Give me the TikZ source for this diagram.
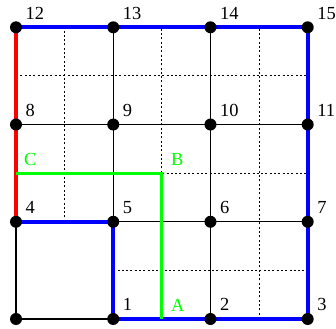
\documentclass[tikz,border=0pt]{standalone}
\usepackage{fontspec}
\setmainfont{Liberation Serif}
\begin{document}
\begin{tikzpicture}[x=97.2bp,y=97.2bp,
  vertex/.style={circle,fill=black,inner sep=0pt,minimum size=12bp},
  num/.style={anchor=base west,inner sep=0pt,font=\fontsize{18.5}{20}\selectfont},
  gridline/.style={line width=1.2bp},
  fine/.style={line width=1bp,dash pattern=on 2bp off 2.3bp},
  boundary/.style={line width=4bp}]
\useasboundingbox (-16bp,-10bp) rectangle ([shift={(28.3bp,27.3bp)}]3,3);
% vertices 0..15, row by row from the bottom
\foreach \k in {0,...,15} {
  \pgfmathtruncatemacro\col{mod(\k,4)}
  \pgfmathtruncatemacro\row{div(\k,4)}
  \coordinate (n\k) at (\col,\row);
}
\coordinate (A) at (1.5,0);
\coordinate (B) at (1.5,1.5);
\coordinate (C) at (0,1.5);
% refined grid
\foreach \x in {1.5,2.5} \draw[fine] (\x,0) -- (\x,3);
\draw[fine] (0.5,1) -- (0.5,3);
\foreach \y in {1.5,2.5} \draw[fine] (0,\y) -- (3,\y);
\draw[fine] (1,0.5) -- (3,0.5);
% coarse grid
\foreach \i in {0,...,3} {
  \pgfmathtruncatemacro\top{12+\i}
  \pgfmathtruncatemacro\left{4*\i}
  \pgfmathtruncatemacro\right{4*\i+3}
  \draw[gridline] (n\i) -- (n\top);
  \draw[gridline] (n\left) -- (n\right);
}
\draw[blue,boundary] (n4) -- (n5) -- (n1) -- (n3) -- (n15) -- (n12);
\draw[red,boundary] (n12) -- (n4);
\draw[green,line width=3bp] (A) -- (B) -- (C);
\foreach \k in {0,...,15} \node[vertex] (d\k) at (n\k) {};
\foreach \k in {1,...,15} \node[num] (l\k) at ([shift={(9.5bp,8bp)}]n\k) {\k};
\node[num,text=green] (la) at ([shift={(9bp,7.5bp)}]A) {A};
\node[num,text=green] (lb) at ([shift={(9bp,7.5bp)}]B) {B};
\node[num,text=green] (lc) at ([shift={(8bp,7.5bp)}]C) {C};
\end{tikzpicture}
\end{document}
